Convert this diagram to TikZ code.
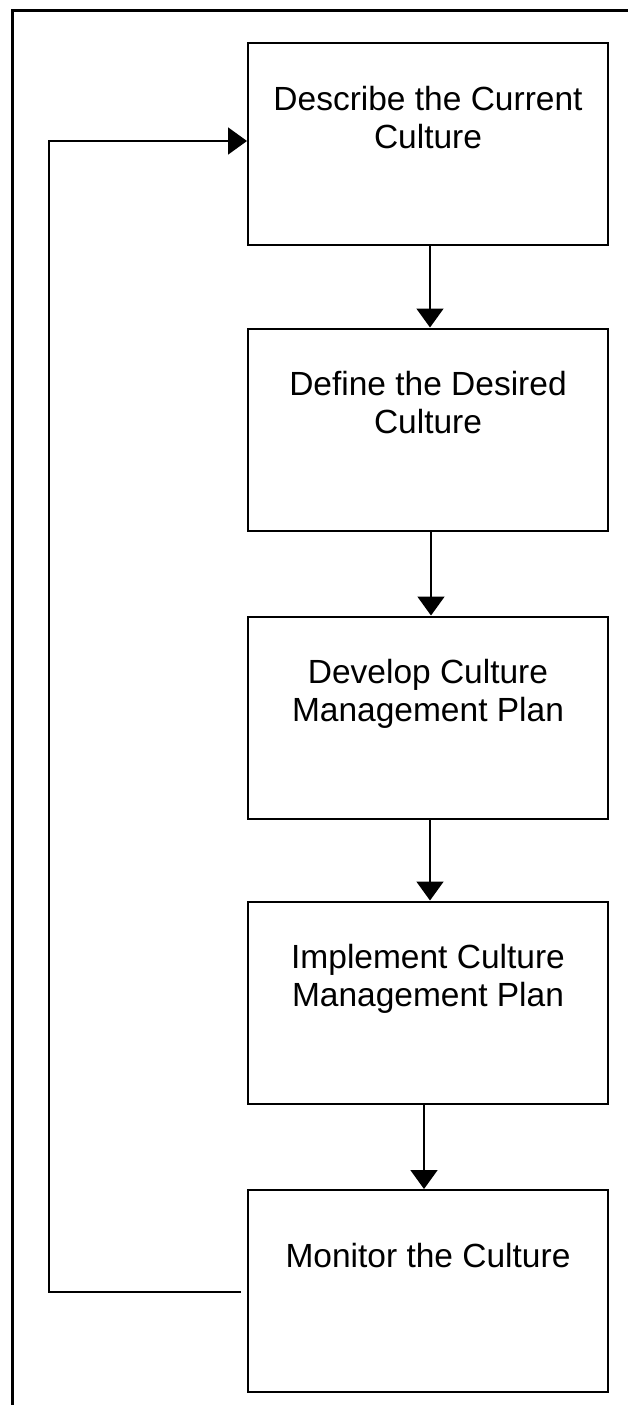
\documentclass[tikz,border=0pt]{standalone}
\usepackage{fontspec}
\setmainfont{Liberation Sans}
\usetikzlibrary{arrows.meta}
\tikzset{
  stagebox/.style={draw, line width=2pt, minimum width=360pt, minimum height=202pt, inner sep=0pt, anchor=north west},
  stagetext/.style={anchor=north, align=center, inner sep=0pt, font=\fontsize{33.5}{38}\selectfont},
  flow/.style={line width=1.8pt, -{Triangle[width=27pt,length=19pt]}},
  frame/.style={line width=3pt}
}
\begin{document}
\begin{tikzpicture}[x=1pt,y=-1pt]
\useasboundingbox (0,0) rectangle (628,1405);
\draw[frame] (12,1420) -- (12,11) -- (640,11);
\node[stagebox] (b1) at (247,42) {};
\node[stagebox] (b2) at (247,327.5) {};
\node[stagebox] (b3) at (247,615.5) {};
\node[stagebox] (b4) at (247,900.5) {};
\node[stagebox] (b5) at (247,1189) {};
\node[stagetext] (t1) at ([yshift=-44pt]b1.north) {Describe the Current\\Culture};
\node[stagetext] (t2) at ([yshift=-44pt]b2.north) {Define the Desired\\Culture};
\node[stagetext] (t3) at ([yshift=-44pt]b3.north) {Develop Culture\\Management Plan};
\node[stagetext] (t4) at ([yshift=-44pt]b4.north) {Implement Culture\\Management Plan};
\node[stagetext] (t5) at ([yshift=-54pt]b5.north) {Monitor the Culture};
\draw[flow] ([xshift=2pt]b1.south) -- ([xshift=2pt]b2.north);
\draw[flow] ([xshift=3pt]b2.south) -- ([xshift=3pt]b3.north);
\draw[flow] ([xshift=2pt]b3.south) -- ([xshift=2pt]b4.north);
\draw[flow] ([xshift=-4pt]b4.south) -- ([xshift=-4pt]b5.north);
\coordinate (fb) at ([xshift=-6pt,yshift=-1pt]b5.west);
\coordinate (fc) at (49,0);
\draw[flow] (fb) -- (fb -| fc) |- ([yshift=3pt]b1.west);
\end{tikzpicture}
\end{document}
